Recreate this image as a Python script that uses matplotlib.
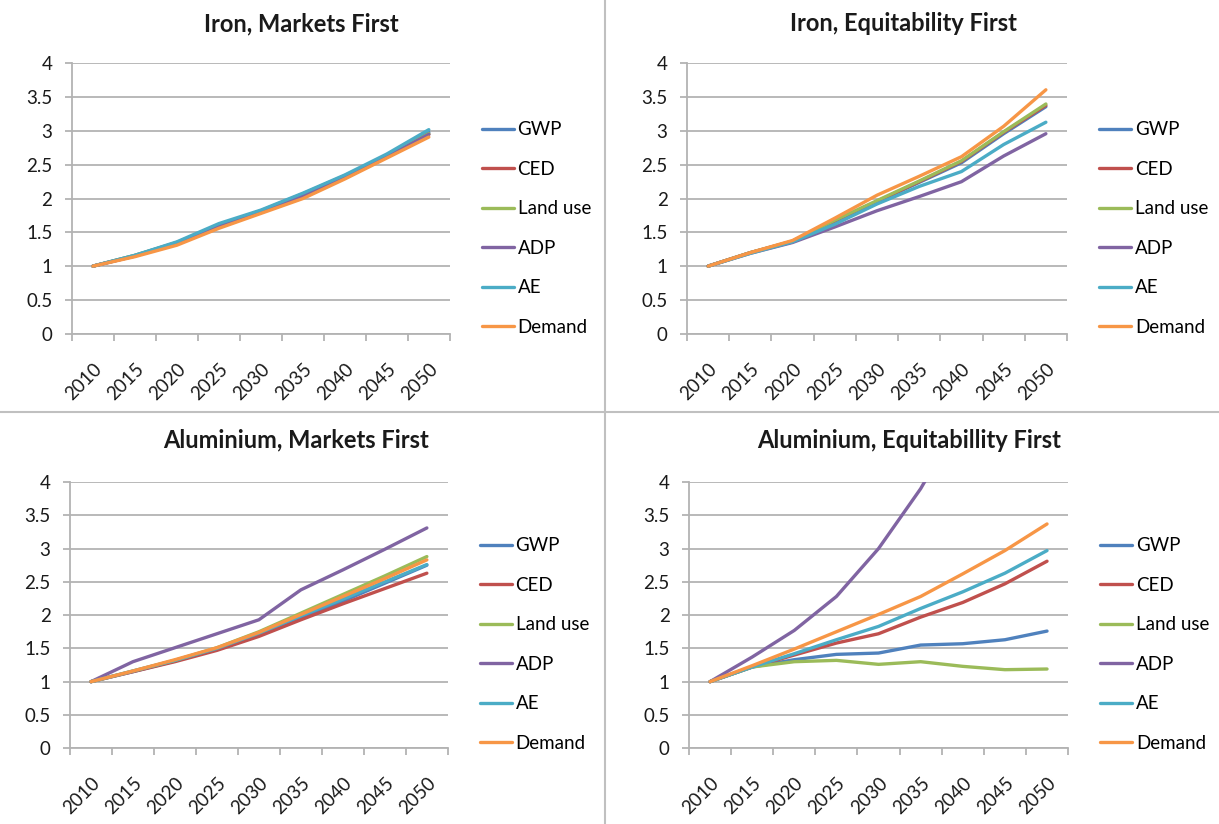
import numpy as np
import matplotlib
matplotlib.use('Agg')
import matplotlib.pyplot as plt
import matplotlib.transforms as mtransforms
from matplotlib.lines import Line2D

plt.rcParams['font.family'] = ['Lato', 'DejaVu Sans']

# ====== Data ===================================

years = ['2010', '2015', '2020', '2025', '2030', '2035', '2040', '2045', '2050']
series_names = ['GWP', 'CED', 'Land use', 'ADP', 'AE', 'Demand']
colors = ['#4F81BD', '#C0504D', '#9BBB59', '#8064A2', '#4BACC6', '#F79646']

# Iron, Markets First
iron_mf_gwp = [1, 1.16, 1.35, 1.61, 1.82, 2.07, 2.34, 2.64, 2.98]
iron_mf_ced = [1, 1.15, 1.34, 1.58, 1.80, 2.04, 2.32, 2.62, 2.95]
iron_mf_land = [1, 1.16, 1.35, 1.60, 1.81, 2.05, 2.33, 2.63, 2.96]
iron_mf_adp = [1, 1.15, 1.34, 1.59, 1.80, 2.04, 2.32, 2.62, 2.95]
iron_mf_ae = [1, 1.16, 1.36, 1.63, 1.83, 2.08, 2.35, 2.66, 3.02]
iron_mf_demand = [1, 1.14, 1.31, 1.56, 1.78, 2.00, 2.29, 2.60, 2.91]

# Iron, Equitability First
iron_ef_gwp = [1, 1.20, 1.36, 1.66, 1.95, 2.24, 2.53, 2.96, 3.36]
iron_ef_ced = [1, 1.20, 1.37, 1.67, 1.96, 2.25, 2.55, 2.98, 3.38]
iron_ef_land = [1, 1.20, 1.37, 1.68, 1.97, 2.26, 2.56, 2.99, 3.40]
iron_ef_adp = [1, 1.19, 1.35, 1.58, 1.82, 2.03, 2.25, 2.63, 2.96]
iron_ef_ae = [1, 1.19, 1.36, 1.62, 1.92, 2.18, 2.40, 2.80, 3.13]
iron_ef_demand = [1, 1.20, 1.38, 1.71, 2.05, 2.33, 2.62, 3.07, 3.61]

# Aluminium, Markets First
alu_mf_gwp = [1, 1.15, 1.31, 1.49, 1.71, 1.96, 2.21, 2.48, 2.75]
alu_mf_ced = [1, 1.15, 1.30, 1.47, 1.68, 1.93, 2.17, 2.40, 2.63]
alu_mf_land = [1, 1.16, 1.32, 1.51, 1.75, 2.03, 2.31, 2.59, 2.88]
alu_mf_adp = [1, 1.30, 1.51, 1.72, 1.93, 2.38, 2.68, 2.99, 3.31]
alu_mf_ae = [1, 1.16, 1.32, 1.50, 1.73, 1.99, 2.24, 2.50, 2.76]
alu_mf_demand = [1, 1.16, 1.33, 1.51, 1.74, 2.01, 2.28, 2.55, 2.83]

# Aluminium, Equitabillity First (ADP runs off the top of the axis after 2035)
alu_ef_gwp = [1, 1.22, 1.33, 1.41, 1.43, 1.55, 1.57, 1.63, 1.76]
alu_ef_ced = [1, 1.22, 1.40, 1.58, 1.72, 1.97, 2.19, 2.47, 2.81]
alu_ef_land = [1, 1.22, 1.30, 1.32, 1.26, 1.30, 1.23, 1.18, 1.19]
alu_ef_adp = [1, 1.37, 1.77, 2.28, 3.00, 3.90, 5.00, 6.20, 7.50]
alu_ef_ae = [1, 1.22, 1.42, 1.63, 1.83, 2.10, 2.35, 2.63, 2.97]
alu_ef_demand = [1, 1.24, 1.49, 1.75, 2.01, 2.28, 2.62, 2.97, 3.37]

yticks = [0, 0.5, 1, 1.5, 2, 2.5, 3, 3.5, 4]
ytick_labels = ['0', '0.5', '1', '1.5', '2', '2.5', '3', '3.5', '4']

# ================================================

panels = [
    ('Iron, Markets First', [0.059, 0.595, 0.310, 0.328], 0.247, 0.971,
     [iron_mf_gwp, iron_mf_ced, iron_mf_land, iron_mf_adp, iron_mf_ae, iron_mf_demand]),
    ('Iron, Equitability First', [0.5636, 0.595, 0.3117, 0.328], 0.741, 0.971,
     [iron_ef_gwp, iron_ef_ced, iron_ef_land, iron_ef_adp, iron_ef_ae, iron_ef_demand]),
    ('Aluminium, Markets First', [0.0574, 0.092, 0.310, 0.323], 0.243, 0.466,
     [alu_mf_gwp, alu_mf_ced, alu_mf_land, alu_mf_adp, alu_mf_ae, alu_mf_demand]),
    ('Aluminium, Equitabillity First', [0.5652, 0.092, 0.311, 0.323], 0.746, 0.466,
     [alu_ef_gwp, alu_ef_ced, alu_ef_land, alu_ef_adp, alu_ef_ae, alu_ef_demand]),
]

grid_col = '#b3b3b3'
x = np.arange(len(years))

fig = plt.figure(figsize=(12.19, 8.24), dpi=100)
# small shift to the left for the slanted year labels
shift = mtransforms.ScaledTranslation(-4 / 100, 0, fig.dpi_scale_trans)

for title, rect, tx, ty, data in panels:
    ax = fig.add_axes(rect)
    for vals, name, col in zip(data, series_names, colors):
        ax.plot(x, vals, color=col, lw=2.4, label=name, solid_capstyle='round')

    ax.set_xlim(-0.5, len(years) - 0.5)
    ax.set_ylim(0, 4)
    ax.set_yticks(yticks)
    ax.set_yticklabels(ytick_labels)
    ax.yaxis.grid(True, color=grid_col, lw=1.3)
    ax.set_axisbelow(True)

    # tick marks between categories, labels at category centres
    ax.set_xticks(np.arange(-0.5, len(years), 1.0))
    ax.set_xticklabels([])
    ax.set_xticks(x, minor=True)
    ax.set_xticklabels(years, minor=True, rotation=45, ha='right', va='top',
                       rotation_mode='anchor')
    for lab in ax.get_xticklabels(minor=True):
        lab.set_transform(lab.get_transform() + shift)
    ax.tick_params(axis='x', which='minor', length=0, pad=19, labelsize=13.5, colors='#1a1a1a')
    ax.tick_params(axis='x', which='major', length=5, width=1.3, color=grid_col)
    ax.tick_params(axis='y', length=5, width=1.3, color=grid_col, pad=9,
                   labelsize=13.5, labelcolor='#1a1a1a')

    for side in ['top', 'right']:
        ax.spines[side].set_visible(False)
    for side in ['left', 'bottom']:
        ax.spines[side].set_color(grid_col)
        ax.spines[side].set_linewidth(1.3)

    leg = ax.legend(loc='center left', bbox_to_anchor=(1.085, 0.39), frameon=False,
                    fontsize=13.5, handlelength=1.7, handletextpad=0.2,
                    labelspacing=1.2, borderpad=0, borderaxespad=0)
    for h in leg.get_lines():
        h.set_linewidth(2.4)

    fig.text(tx, ty, title, ha='center', va='center', fontsize=17,
             fontweight='bold', color='#1a1a1a')

# panel dividers
fig.add_artist(Line2D([0.4963, 0.4963], [0, 1], transform=fig.transFigure,
                      color='#c0c0c0', lw=1.5))
fig.add_artist(Line2D([0, 1], [0.5, 0.5], transform=fig.transFigure,
                      color='#c0c0c0', lw=1.5))

fig.savefig('out.png', dpi=100, facecolor='white')
